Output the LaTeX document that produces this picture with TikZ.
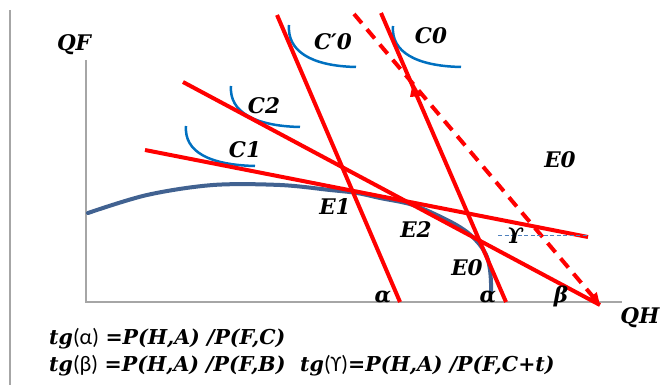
\documentclass[tikz,border=0pt]{standalone}
\usepackage{fontspec}
\setmainfont{DejaVu Serif}
\newfontfamily\grkfont[Scale=1.08]{Carlito}
\usetikzlibrary{arrows.meta}

\definecolor{budgetred}{RGB}{255,0,0}
\definecolor{ppfblue}{RGB}{65,98,145}
\definecolor{indiffblue}{RGB}{0,112,192}
\definecolor{axisgray}{RGB}{166,166,166}
\definecolor{gammablue}{RGB}{79,129,189}

\begin{document}
\begin{tikzpicture}[
    x=1pt, y=-1pt,
    lbl/.style = {
        font=\fontsize{21.5}{24}\selectfont\bfseries\itshape,
        inner sep=0pt
    },
    formula/.style = {
        font=\fontsize{20.5}{23}\selectfont,
        inner sep=0pt,
        anchor=base west
    },
    axis/.style = {draw=axisgray, line width=1.2pt},
    budget/.style = {draw=budgetred, line width=4pt},
    indiff/.style = {draw=indiffblue, line width=2.5pt},
    ppf/.style = {draw=ppfblue, line width=4pt, line cap=round},
    tip/.style = {-{Triangle[length=12pt, width=11pt]}}
]
\useasboundingbox (0,0) rectangle (660,385);

%% ── Ejes ────────────────────────────────────────────────────────────────────

\coordinate (frameT) at (10,10);
\coordinate (frameB) at (10,385);
\coordinate (origin) at (86,302);
\coordinate (qfend)  at (86,60);
\coordinate (qhend)  at (622,302);

\draw[axis] (frameT) -- (frameB);
\draw[axis] (qfend) -- (origin) -- (qhend);

\node[lbl] (qf) at (74,45)  {QF};
\node[lbl] (qh) at (640,318) {QH};

%% ── Frontera de posibilidades ───────────────────────────────────────────────

\draw[ppf] plot[smooth, tension=0.55] coordinates {
    (88,213) (147,195) (213,185) (280,185) (330,190) (357,193)
    (380,198) (413,205) (447,220) (467,232) (480,245) (487,257)
    (490,270) (491,283) (491,292)};

%% ── Curvas de indiferencia ──────────────────────────────────────────────────

\coordinate (c1a)  at (186,126);  \coordinate (c1b)  at (255,166);
\coordinate (c2a)  at (231,86);   \coordinate (c2b)  at (300,127);
\coordinate (cp0a) at (289,25);   \coordinate (cp0b) at (356,67);
\coordinate (c0a)  at (393,26);   \coordinate (c0b)  at (461,67);

\draw[indiff] (c1a)  .. controls +(-2,26) and +(-45,-1) .. (c1b);
\draw[indiff] (c2a)  .. controls +(-2,26) and +(-45,-1) .. (c2b);
\draw[indiff] (cp0a) .. controls +(-2,26) and +(-45,-1) .. (cp0b);
\draw[indiff] (c0a)  .. controls +(-2,26) and +(-45,-1) .. (c0b);

%% ── Rectas de precios ───────────────────────────────────────────────────────

\coordinate (r1s) at (145,150);  \coordinate (r1e) at (588,237);
\coordinate (r2s) at (183,82);   \coordinate (r2e) at (600,305);
\coordinate (r3s) at (277,15);   \coordinate (r3e) at (400,302);
\coordinate (r4s) at (381,13);   \coordinate (r4e) at (506,302);
\coordinate (r5s) at (354,14);   \coordinate (r5e) at (600,305);

\draw[budget] (r1s) -- (r1e);
\draw[budget] (r2s) -- (r2e);
\draw[budget] (r3s) -- (r3e);
\draw[budget] (r4s) -- (r4e);
\draw[budget, dash pattern=on 12pt off 8pt, tip] (r5s) -- (r5e);

% marca sobre la recta C0
\coordinate (mk1) at (413,82);
\coordinate (mk2) at (410,97);
\coordinate (mk3) at (421,96);
\fill[budgetred] (mk1) -- (mk2) -- (mk3) -- cycle;

% angulo gamma
\coordinate (gs) at (498,235);
\coordinate (ge) at (588,235);
\draw[gammablue, line width=1pt, dash pattern=on 4pt off 2.5pt] (gs) -- (ge);

%% ── Etiquetas ───────────────────────────────────────────────────────────────

\node[lbl] (lc1)  at (245,150) {C1};
\node[lbl] (lc2)  at (264,106) {C2};
\node[lbl] (lcp0) at (333,42)  {C′0};
\node[lbl] (lc0)  at (431,36)  {C0};
\node[lbl] (le0r) at (560,160) {E0};
\node[lbl] (le1)  at (335,207) {E1};
\node[lbl] (le2)  at (416,230) {E2};
\node[lbl] (le0)  at (467,268) {E0};
\node[lbl] (la1)  at (383,297) {α};
\node[lbl] (la2)  at (488,297) {α};
\node[lbl] (lb)   at (561,296) {β};
\node[lbl] (lg)   at (515,235) {ϒ};

%% ── Formulas ────────────────────────────────────────────────────────────────

\node[formula] (fa) at (49,344)
    {{\bfseries\itshape tg}{\grkfont(α)} {\bfseries\itshape =P(H,A) /P(F,C)}};
\node[formula] (fb) at (49,371)
    {{\bfseries\itshape tg}{\grkfont(β)} {\bfseries\itshape =P(H,A) /P(F,B)}};
\node[formula] (fg) at (300,371)
    {{\bfseries\itshape tg}{\grkfont(ϒ)}{\bfseries\itshape =P(H,A) /P(F,C+t)}};

\end{tikzpicture}
\end{document}
